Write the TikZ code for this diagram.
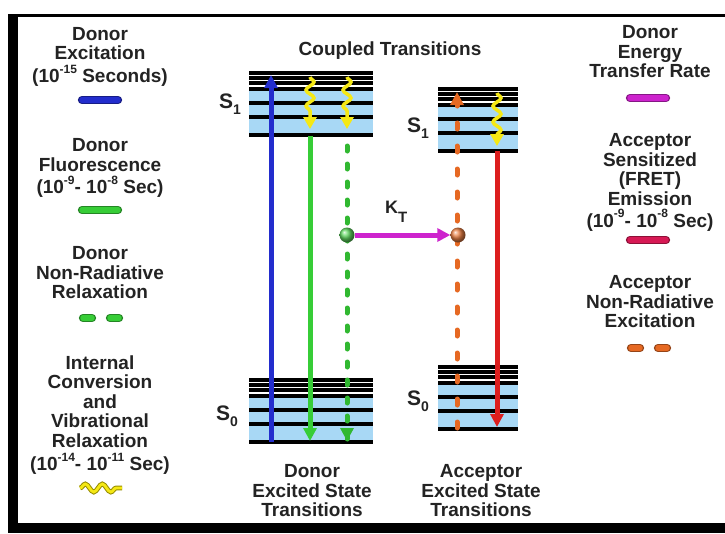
\documentclass[tikz,border=0pt]{standalone}
\usepackage{fontspec}
\setmainfont{Liberation Sans}
\usetikzlibrary{arrows.meta,decorations.pathmorphing,calc}
\definecolor{lblue}{RGB}{168,216,245}
\definecolor{cblue}{RGB}{35,45,205}
\definecolor{cgreen}{RGB}{55,205,55}
\definecolor{cmag}{RGB}{205,35,205}
\definecolor{cred}{RGB}{220,30,30}
\definecolor{ccrim}{RGB}{215,25,85}
\definecolor{corange}{RGB}{230,105,35}
\definecolor{cyellow}{RGB}{245,232,20}
\definecolor{colive}{RGB}{150,140,0}
\definecolor{ctext}{RGB}{35,35,35}
\newcommand\spx[1]{\raisebox{0.5em}{\fontsize{12}{12}\selectfont #1}}
\newcommand\drawlevels[3]{%
  \fill[lblue] (#1,#3+16) rectangle (#2,#3+62);
  \foreach \o in {0,5,10,16,30,44,62} \draw[lvl] (#1,#3+\o) -- (#2,#3+\o);
}
\tikzset{
  txt/.style={font=\bfseries\fontsize{19}{19.5}\selectfont, align=center, text=ctext, inner sep=0pt, anchor=north},
  slab/.style={font=\bfseries\fontsize{21}{21}\selectfont, text=ctext, inner sep=0pt, anchor=base west},
  lvl/.style={line width=3.2pt, black},
  pill/.style={line cap=round, line width=1.4pt, double distance=5.5pt, draw=#1!65!black, double=#1},
  tipA/.style={-{Triangle[length=13pt,width=13pt]}},
  solidarr/.style={line width=5pt, draw=#1, tipA},
  dashgreen/.style={line width=5pt, draw=cgreen!90!black, line cap=round, dash pattern=on 5pt off 13pt},
  dashorange/.style={line width=5pt, draw=corange, line cap=round, dash pattern=on 6pt off 17pt},
  wave/.style={line width=3.5pt, draw=cyellow, decorate,
    decoration={snake, amplitude=4pt, segment length=16pt, post length=11pt}},
  ball/.style={circle, minimum size=15pt, inner sep=0pt, shade, ball color=#1}
}
\begin{document}
\begin{tikzpicture}[x=1pt,y=-1pt]
\useasboundingbox (0,0) rectangle (725,533);
\fill[white] (0,0) rectangle (725,533);
% frame
\fill[black] (8,13.5) rectangle (725,16.5);
\fill[black] (8,13.5) rectangle (18,533);
\fill[black] (8,523) rectangle (725,533);

% left legend
\node[txt] (l1) at (100,27) {Donor\\Excitation\\[3.5pt](10\spx{-15} Seconds)};
\draw[pill=cblue] (82,100) -- (118,100);
\node[txt] (l2) at (100,138.5) {Donor\\Fluorescence\\[3pt](10\spx{-9}- 10\spx{-8} Sec)};
\draw[pill=cgreen] (82,210) -- (118,210);
\node[txt] (l3) at (100,246.5) {Donor\\Non-Radiative\\Relaxation};
\draw[pill=cgreen] (83,318) -- (92,318);
\draw[pill=cgreen] (110,318) -- (119,318);
\node[txt] (l4) at (100,355.5) {Internal\\Conversion\\and\\Vibrational\\Relaxation\\[4pt](10\spx{-14}- 10\spx{-11} Sec)};
\draw[line width=1pt, double distance=2.8pt, draw=colive, double=cyellow, decorate,
  decoration={snake, amplitude=4pt, segment length=17pt}] (80,488) -- (122,488);

% right legend
\node[txt] (r1) at (650,25.5) {Donor\\Energy\\Transfer Rate};
\draw[pill=cmag] (630,98) -- (666,98);
\node[txt] (r2) at (650,133.5) {Acceptor\\Sensitized\\(FRET)\\Emission\\[2.5pt](10\spx{-9}- 10\spx{-8} Sec)};
\draw[pill=ccrim] (630,240) -- (666,240);
\node[txt] (r3) at (650,275.5) {Acceptor\\Non-Radiative\\Excitation};
\draw[pill=corange] (631,348) -- (640,348);
\draw[pill=corange] (658,348) -- (667,348);

% titles
\node[txt] (title) at (390,41.5) {Coupled Transitions};
\node[txt] (dlab) at (312,464.5) {Donor\\Excited State\\Transitions};
\node[txt] (alab) at (481,464.5) {Acceptor\\Excited State\\Transitions};

% energy levels
\drawlevels{249}{373}{73}
\drawlevels{249}{373}{380}
\drawlevels{438}{518}{89}
\drawlevels{438}{518}{367}

\node[slab] (ds1) at (219,108) {S\raisebox{-6pt}{\fontsize{14}{14}\selectfont 1}};
\node[slab] (ds0) at (216,420) {S\raisebox{-6pt}{\fontsize{14}{14}\selectfont 0}};
\node[slab] (as1) at (407,132) {S\raisebox{-6pt}{\fontsize{14}{14}\selectfont 1}};
\node[slab] (as0) at (407,405) {S\raisebox{-6pt}{\fontsize{14}{14}\selectfont 0}};

% coordinates
\coordinate (b0) at (271,442);
\coordinate (b1) at (271,75);
\coordinate (g0) at (310,136);
\coordinate (g1) at (310,441);
\coordinate (gd0) at (347,146);
\coordinate (gd1) at (347,441);
\coordinate (gd2) at (347,437);
\coordinate (o0) at (457,428);
\coordinate (o1) at (457,92);
\coordinate (o2) at (457,96);
\coordinate (r0) at (497,151);
\coordinate (r1a) at (497,427);
\coordinate (y1s) at (310,77);
\coordinate (y1e) at (310,129);
\coordinate (y2s) at (347,77);
\coordinate (y2e) at (347,129);
\coordinate (y3s) at (497,93);
\coordinate (y3e) at (497,146);

% transitions
\draw[solidarr=cblue] (b0) -- (b1);
\draw[solidarr=cgreen] (g0) -- (g1);
\draw[dashgreen] (gd0) -- (gd1);
\draw[line width=5pt, draw=cgreen!90!black, tipA] (gd2) -- (gd1);
\draw[dashorange] (o0) -- (o1);
\draw[line width=5pt, draw=corange, tipA] (o2) -- (o1);
\draw[solidarr=cred] (r0) -- (r1a);

\draw[wave, -{Triangle[length=12pt,width=13pt,fill=cyellow]}] (y1s) -- (y1e);
\draw[wave, -{Triangle[length=12pt,width=13pt,fill=cyellow]}] (y2s) -- (y2e);
\draw[wave, -{Triangle[length=12pt,width=13pt,fill=cyellow]}] (y3s) -- (y3e);

% energy transfer
\node[ball=cgreen!80!white] (gb) at (347,235) {};
\node[ball=corange!85!white] (ob) at (458,235) {};
\draw[solidarr=cmag] (gb.east) -- (ob.west);
\node[inner sep=0pt, anchor=base west, font=\bfseries\fontsize{18}{18}\selectfont, text=ctext] (kt) at (385,213) {K\raisebox{-9pt}{\fontsize{15}{15}\selectfont T}};
\end{tikzpicture}
\end{document}
